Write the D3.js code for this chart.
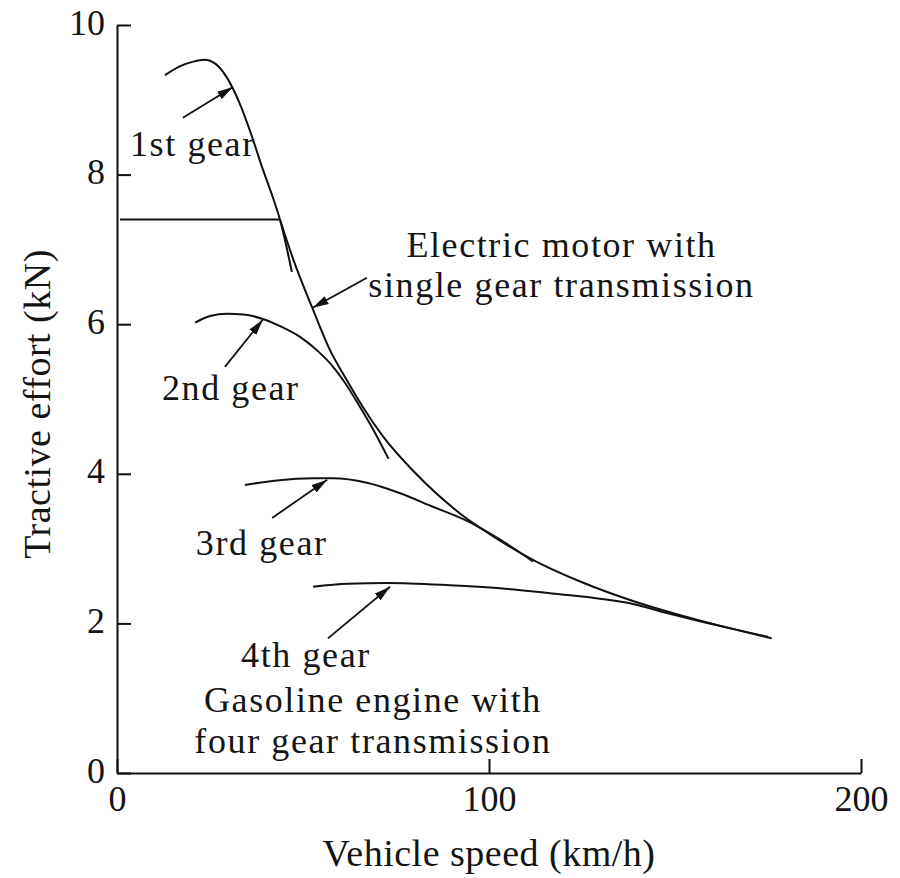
<!DOCTYPE html>
<html>
<head>
<meta charset="utf-8">
<script src="https://cdn.jsdelivr.net/npm/d3@7"></script>
<style>
  body { margin: 0; background: #fff; }
  text { font-family: "Liberation Serif", "Times New Roman", serif; fill: #141414; }
</style>
</head>
<body>
<svg id="chart"></svg>
<script>
// values (x = km/h, y = kN)
const xTicks = [0, 100, 200];
const yTicks = [0, 2, 4, 6, 8, 10];

const motorFlat = [[0.8, 7.4], [43.8, 7.4]];
const motorCurve = [
  [43.8, 7.4], [47.5, 6.85], [52.4, 6.23], [57, 5.68], [61.8, 5.25], [66, 4.9],
  [71.5, 4.5], [80, 4.02], [92.2, 3.47], [100, 3.2], [111.8, 2.85], [125, 2.55],
  [138.7, 2.3], [150, 2.13], [162, 1.97], [175, 1.82]
];
const gear1 = [
  [12.9, 9.33], [17, 9.45], [20.5, 9.51], [23.5, 9.535], [26.5, 9.48], [29.5, 9.3],
  [33, 8.95], [36, 8.55], [39, 8.1], [42, 7.68], [43.8, 7.4], [45.5, 7.05], [47, 6.7]
];
const gear2 = [
  [21, 6.02], [25, 6.11], [29.6, 6.14], [34, 6.13], [39.2, 6.07], [44, 5.97],
  [49.2, 5.83], [54, 5.64], [58.1, 5.43], [61.5, 5.2], [65, 4.92], [69, 4.58], [73, 4.2]
];
const gear3 = [
  [34.4, 3.85], [43, 3.91], [52.7, 3.94], [58.1, 3.94], [67.2, 3.88], [76.1, 3.74],
  [84.9, 3.56], [94.1, 3.37], [103, 3.12], [111.8, 2.83]
];
const gear4 = [
  [52.7, 2.49], [62, 2.53], [72.6, 2.54], [89.5, 2.51], [103, 2.47], [119, 2.39],
  [129.8, 2.33], [138.7, 2.26], [147, 2.15], [156.7, 2.03], [166, 1.92], [176, 1.8]
];

// arrows: [tailX, tailY, tipX, tipY]
const arrows = [
  [17.7, 8.76, 31.2, 9.17],
  [67.2, 6.62, 52.6, 6.22],
  [29.0, 5.43, 39.2, 6.06],
  [41.7, 3.41, 56.5, 3.92],
  [56.7, 1.80, 73.4, 2.49]
];

// text labels: [text, x, y] in km/h and kN (baseline positions)
const labels = [
  ["1st gear", 20.4, 8.25],
  ["Electric motor with", 119.5, 6.9],
  ["single gear transmission", 119.5, 6.37],
  ["2nd gear", 30.6, 4.99],
  ["3rd gear", 38.9, 2.91],
  ["4th gear", 50.8, 1.42],
  ["Gasoline engine with", 68.8, 0.82],
  ["four gear transmission", 68.8, 0.27]
];

const svgWidth = 900, svgHeight = 878;
const margin = { top: 25, right: 39, bottom: 105, left: 117 };
const width = svgWidth - margin.left - margin.right;
const height = svgHeight - margin.top - margin.bottom;

const svg = d3.select("#chart").attr("width", svgWidth).attr("height", svgHeight);

svg.append("defs").append("marker")
  .attr("id", "head")
  .attr("viewBox", "0 0 16 10")
  .attr("refX", 16).attr("refY", 5)
  .attr("markerWidth", 16).attr("markerHeight", 10)
  .attr("markerUnits", "userSpaceOnUse")
  .attr("orient", "auto")
  .append("path")
  .attr("d", "M0,0.6L16,5L0,9.4Z")
  .attr("fill", "#111");

const g = svg.append("g")
  .attr("transform", "translate(" + margin.left + "," + margin.top + ")");

const x = d3.scaleLinear().domain([0, 200]).range([0, width]);
const y = d3.scaleLinear().domain([0, 10]).range([height, 0]);

const xAxis = g.append("g")
  .attr("transform", "translate(0," + height + ")")
  .call(d3.axisBottom(x).tickValues(xTicks).tickSize(-14).tickSizeOuter(0).tickPadding(12));

const yAxis = g.append("g")
  .call(d3.axisLeft(y).tickValues(yTicks).tickSize(-14).tickSizeOuter(0).tickPadding(12));

[xAxis, yAxis].forEach((a) => {
  a.selectAll("path, line").attr("stroke", "#111").attr("stroke-width", 2);
  a.selectAll("text")
    .attr("fill", "#141414")
    .style("font-family", "'Liberation Serif', serif")
    .style("font-size", "36px");
});
xAxis.selectAll("text").attr("dy", "0.72em");
yAxis.selectAll("text").attr("dy", "0.25em");

const line = d3.line()
  .x((d) => x(d[0]))
  .y((d) => y(d[1]))
  .curve(d3.curveMonotoneX);

const curves = [motorFlat, motorCurve, gear1, gear2, gear3, gear4];
g.selectAll(".curve")
  .data(curves)
  .enter()
  .append("path")
  .attr("class", "curve")
  .attr("fill", "none")
  .attr("stroke", "#111")
  .attr("stroke-width", 2)
  .attr("stroke-linejoin", "round")
  .attr("d", line);

g.selectAll(".arrow")
  .data(arrows)
  .enter()
  .append("line")
  .attr("class", "arrow")
  .attr("x1", (d) => x(d[0]))
  .attr("y1", (d) => y(d[1]))
  .attr("x2", (d) => x(d[2]))
  .attr("y2", (d) => y(d[3]))
  .attr("stroke", "#111")
  .attr("stroke-width", 1.8)
  .attr("marker-end", "url(#head)");

g.selectAll(".label")
  .data(labels)
  .enter()
  .append("text")
  .attr("class", "label")
  .attr("x", (d) => x(d[1]))
  .attr("y", (d) => y(d[2]))
  .attr("text-anchor", "middle")
  .style("font-size", "36px")
  .style("letter-spacing", "1.6px")
  .text((d) => d[0]);

// axis titles
g.append("text")
  .attr("x", x(100))
  .attr("y", height + 93)
  .attr("text-anchor", "middle")
  .style("font-size", "38px")
  .style("letter-spacing", "0.5px")
  .text("Vehicle speed (km/h)");

g.append("text")
  .attr("transform", "rotate(-90)")
  .attr("x", -(y(5) + 5))
  .attr("y", -67)
  .attr("text-anchor", "middle")
  .style("font-size", "38px")
  .style("letter-spacing", "0.5px")
  .text("Tractive effort (kN)");
</script>
</body>
</html>
